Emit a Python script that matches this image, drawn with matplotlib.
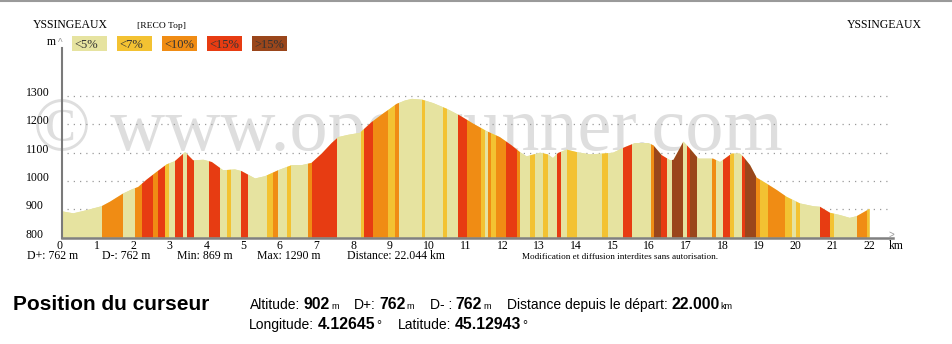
import numpy as np
import matplotlib
matplotlib.use("Agg")
from matplotlib import pyplot as plt
from matplotlib.patches import Polygon, Rectangle
from matplotlib.transforms import ScaledTranslation

# elevation profile (km, m)
dist_km = [0.00, 0.31, 0.67, 1.08, 1.31, 1.67, 1.90, 2.08, 2.31, 2.58, 2.86, 3.08,
           3.36, 3.58, 3.86, 4.09, 4.40, 4.72, 4.90, 5.27, 5.54, 5.90, 6.27, 6.54,
           6.81, 7.09, 7.36, 7.54, 7.81, 8.13, 8.45, 8.73, 8.95, 9.13, 9.36, 9.55,
           9.83, 10.13, 10.50, 10.86, 11.23, 11.59, 11.95, 12.27, 12.50, 12.68, 13.05,
           13.26, 13.40, 13.54, 13.77, 14.05, 14.41, 14.77, 15.04, 15.37, 15.64, 16.00,
           16.14, 16.37, 16.60, 16.69, 16.96, 17.14, 17.37, 17.77, 17.96, 18.09, 18.28,
           18.50, 18.60, 18.78, 18.96, 19.23, 19.51, 19.78, 20.14, 20.51, 20.69, 20.96,
           21.23, 21.50, 21.69, 22.044]
altitude = [893, 886, 897, 911, 927, 956, 970, 979, 1005, 1032, 1059, 1070,
            1102, 1073, 1075, 1067, 1038, 1041, 1035, 1009, 1017, 1038, 1056, 1056,
            1064, 1097, 1134, 1155, 1163, 1170, 1208, 1235, 1255, 1272, 1284, 1290,
            1287, 1275, 1255, 1231, 1202, 1176, 1155, 1126, 1102, 1087, 1100,
            1094, 1081, 1099, 1111, 1102, 1094, 1097, 1100, 1120, 1134, 1134,
            1126, 1091, 1073, 1075, 1139, 1114, 1079, 1079, 1067, 1079, 1097,
            1097, 1085, 1056, 1012, 991, 968, 944, 921, 911, 909, 888,
            880, 870, 876, 902]

# slope bands: start km and slope class (0 <5%, 1 <7%, 2 <10%, 3 <15%, 4 >15%)
band_start = [0.00, 1.09, 1.67, 1.99, 2.18, 2.48, 2.61, 2.82, 2.92, 3.08, 3.29, 3.40,
              3.60, 4.01, 4.30, 4.50, 4.61, 4.89, 5.08, 5.59, 5.77, 5.90, 6.15, 6.25,
              6.72, 6.83, 7.50, 8.17, 8.23, 8.50, 8.91, 9.09, 9.21, 9.82, 9.92, 10.41,
              10.51, 10.82, 11.04, 11.44, 11.54, 11.63, 11.72, 11.85, 12.13, 12.41,
              12.50, 12.77, 12.91, 13.14, 13.27, 13.50, 13.62, 13.77, 14.06, 14.74,
              14.91, 15.32, 15.55, 16.07, 16.17, 16.35, 16.50, 16.64, 16.96, 17.05,
              17.14, 17.32, 17.74, 17.85, 18.05, 18.23, 18.34, 18.55, 18.64, 18.95,
              19.05, 19.28, 19.73, 19.92, 20.03, 20.14, 20.69, 20.96, 21.06, 21.69,
              21.96]
band_class = [0, 2, 0, 2, 3, 2, 3, 1, 0, 3, 0, 3,
              0, 3, 0, 1, 0, 3, 0, 1, 2, 0, 1, 0,
              2, 3, 0, 1, 3, 2, 1, 2, 0, 1, 0, 1,
              0, 3, 2, 1, 0, 2, 1, 2, 3, 2,
              0, 1, 0, 1, 0, 3, 0, 1, 0, 1,
              0, 3, 0, 2, 4, 3, 0, 4, 0, 3,
              4, 0, 2, 0, 3, 1, 0, 3, 4, 2,
              1, 2, 1, 0, 1, 0, 3, 1, 0, 2,
              1]

slope_labels = ["<5%", "<7%", "<10%", "<15%", ">15%"]
slope_colors = ["#e6e3a0", "#f3c232", "#f08c14", "#e73c12", "#9a461b"]

y_ticks = [800, 900, 1000, 1100, 1200, 1300]
x_ticks = list(range(23))

place = "YSSINGEAUX"
stats = [("D+: 762 m", 27), ("D-: 762 m", 102), ("Min: 869 m", 177),
         ("Max: 1290 m", 257), ("Distance: 22.044 km", 347)]

# cursor readout: (label, value, unit, x start)
cursor_row1 = [("Altitude:", "902", "m", 250), ("D+:", "762", "m", 354),
               ("D- :", "762", "m", 430), ("Distance depuis le départ:", "22.000", "km", 507)]
cursor_row2 = [("Longitude:", "4.12645", "°", 249), ("Latitude:", "45.12943", "°", 398)]

W, H = 953, 344
SERIF = "Liberation Serif"
SANS = "Liberation Sans"


def fx(x):
    return x / W


def fy(y):
    return 1 - y / H


fig = plt.figure(figsize=(W / 100, H / 100), dpi=100)
fig.patch.set_facecolor("white")
r = fig.canvas.get_renderer()

# axes box in pixels: 0 km at x=62, 800 m at y=237.7
x0, x1, ybase, ytop = 62, 893, 237.7, 40
ax = fig.add_axes([fx(x0), fy(ybase), (x1 - x0) / W, (ybase - ytop) / H])
ax.set_xlim(0, (x1 - x0) / 36.64)
ax.set_ylim(800, 800 + (ybase - ytop) / 0.2834)
for s in ax.spines.values():
    s.set_visible(False)
ax.set_facecolor("none")

# watermark, kept behind the profile
wm = ax.text(fx(33), fy(150), "\u00a9 www.openrunner.com", family=SERIF,
             fontsize=52, color="#dedede", va="baseline", ha="left", zorder=0,
             transform=fig.transFigure, clip_on=False)
wm.set_fontsize(52 * 750 / wm.get_window_extent(r).width)

# dotted guide lines
ax.hlines(y_ticks[1:], 0.15, 22.55, colors="#9a9a9a", linestyles=(0, (1, 4)),
          lw=0.9, zorder=1)

# profile with slope bands
verts = [(dist_km[0], 800)] + list(zip(dist_km, altitude)) + [(dist_km[-1], 800)]
profile = Polygon(verts, closed=True, facecolor=slope_colors[0],
                  edgecolor="none", zorder=2)
ax.add_patch(profile)
band_end = band_start[1:] + [dist_km[-1]]
for s, e, c in zip(band_start, band_end, band_class):
    b = ax.axvspan(s, e, facecolor=slope_colors[c], lw=0, zorder=3)
    b.set_clip_path(profile)

# axes lines
ax.plot([0, 0], [800, 800 + (ybase - 48) / 0.2834], color="#7a7a7a", lw=1.5,
        zorder=4, clip_on=False)
ax.plot([0, ax.get_xlim()[1]], [800, 800], color="#808080", lw=1.8,
        zorder=4, clip_on=False)
fig.text(fx(889), fy(238), ">", fontsize=7, color="#999999", family=SANS,
         va="baseline", ha="left")
fig.text(fx(60.5), fy(46), "^", fontsize=7, color="#999999", family=SANS,
         va="baseline", ha="center")
fig.text(fx(47), fy(45), "m", fontsize=8.5, family=SERIF, va="baseline")

# ticks
ax.tick_params(length=0)
ax.set_yticks(y_ticks)
ax.set_yticklabels([str(v) for v in y_ticks], family=SERIF, fontsize=8.5,
                   ha="left", va="baseline")
ax.tick_params(axis="y", pad=(x0 - 26) * 0.72)
ax.set_xticks(x_ticks)
ax.set_xticklabels([str(v) for v in x_ticks], family=SERIF, fontsize=8.5, ha="left")
ax.tick_params(axis="x", pad=1.5)
shift = ScaledTranslation(-5 / 100, 0, fig.dpi_scale_trans)
for lab in ax.get_xticklabels():
    lab.set_transform(lab.get_transform() + shift)
fig.text(fx(889), fy(249), "km", family=SERIF, fontsize=8.5, va="baseline")

# statistics line
for txt, xp in stats:
    fig.text(fx(xp), fy(259), txt, family=SERIF, fontsize=8.5, va="baseline")
fig.text(fx(522), fy(259), "Modification et diffusion interdites sans autorisation.",
         family=SERIF, fontsize=6.6, va="baseline")

# header
fig.add_artist(plt.Line2D([0, 1], [fy(0.5), fy(0.5)], color="#9a9a9a", lw=1.5))
fig.text(fx(33), fy(28), place, family=SERIF, fontsize=8.5, va="baseline")
fig.text(fx(847), fy(28), place, family=SERIF, fontsize=8.5, va="baseline")
fig.text(fx(137), fy(28), "[RECO Top]", family=SERIF, fontsize=6.8, va="baseline")

for i, (lab, col) in enumerate(zip(slope_labels, slope_colors)):
    bx = 72 + 45 * i
    fig.add_artist(Rectangle((fx(bx), fy(51)), 35 / W, 15 / H, facecolor=col,
                             edgecolor="none", transform=fig.transFigure))
    fig.text(fx(bx + 2.5), fy(47.5), lab, family=SERIF, fontsize=9,
             color="#333333", va="baseline")

# cursor position block
fig.text(fx(13), fy(310), "Position du curseur", family=SANS, fontsize=15,
         fontweight="bold", va="baseline")


def write_group(x, y, label, value, unit):
    t = fig.text(fx(x), fy(y), label, family=SANS, fontsize=10, va="baseline")
    x += t.get_window_extent(r).width + 3.5
    t = fig.text(fx(x), fy(y), value, family=SANS, fontsize=11.3,
                 fontweight="bold", va="baseline")
    x += t.get_window_extent(r).width + 1
    fig.text(fx(x), fy(y), unit, family=SANS,
             fontsize=6.5 if unit != "°" else 9, va="baseline")


for lab, val, unit, xp in cursor_row1:
    write_group(xp, 309, lab, val, unit)
for lab, val, unit, xp in cursor_row2:
    write_group(xp, 329, lab, val, unit)

fig.savefig("out.png", dpi=100)
